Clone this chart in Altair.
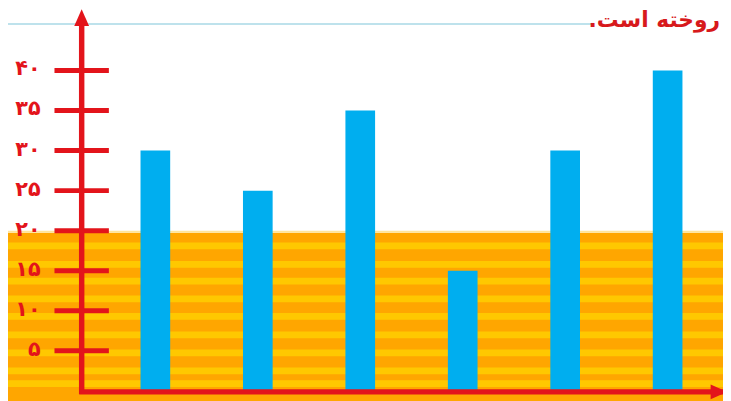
import altair as alt
import pandas as pd

# ---- data ----
categories = ["۱", "۲", "۳", "۴", "۵", "۶"]
values = [30, 25, 35, 15, 30, 40]

tick_values = [5, 10, 15, 20, 25, 30, 35, 40]
tick_labels = ["۵", "۱۰", "۱۵", "۲۰", "۲۵", "۳۰", "۳۵", "۴۰"]

stripe_centers = [18.1, 15.8, 13.7, 11.5, 9.3, 7.0, 4.75, 2.5, 0.9]
band_top = 19.75

title_text = "روخته است.\u200f"

# ---- styles ----
W, H = 723, 393
RED = "#E3141B"
BLUE = "#00AEEF"
ORANGE = "#FFA600"
YELLOW = "#FFC800"
FONT = "DejaVu Sans"

yscale = alt.Scale(domain=[-0.99, 47.53], nice=False, zero=False)

bars_df = pd.DataFrame({"cat": categories, "value": values})
ticks_df = pd.DataFrame({"v": tick_values, "label": tick_labels})
stripes_df = pd.DataFrame({"c": stripe_centers})
stripes_df["lo"] = stripes_df["c"] - 0.42
stripes_df["hi"] = stripes_df["c"] + 0.42
band_df = pd.DataFrame({"lo": [-2.0], "hi": [band_top]})
pale_df = pd.DataFrame({"lo": [band_top], "hi": [band_top + 0.25]})

band = alt.Chart(band_df).mark_rect(color=ORANGE).encode(
    x=alt.value(0), x2=alt.value(W),
    y=alt.Y("lo:Q", scale=yscale, axis=None), y2="hi:Q")

pale = alt.Chart(pale_df).mark_rect(color="#FFE59A").encode(
    x=alt.value(0), x2=alt.value(W),
    y=alt.Y("lo:Q", scale=yscale, axis=None), y2="hi:Q")

stripes = alt.Chart(stripes_df).mark_rect(color=YELLOW).encode(
    x=alt.value(0), x2=alt.value(W),
    y=alt.Y("lo:Q", scale=yscale, axis=None), y2="hi:Q")

blue_line = alt.Chart(pd.DataFrame({"a": [0]})).mark_rule(
    color="#A9D9E6", strokeWidth=1.5).encode(
    x=alt.value(0), x2=alt.value(590), y=alt.value(14))

bars = alt.Chart(bars_df).mark_bar(color=BLUE, size=30).encode(
    x=alt.X("cat:N", sort=categories, axis=None,
            scale=alt.Scale(type="point", range=[149, 667], padding=0)),
    y=alt.Y("value:Q", scale=yscale, axis=None),
    y2=alt.datum(0))

ticks = alt.Chart(ticks_df).mark_rule(color=RED, strokeWidth=5).encode(
    x=alt.value(47), x2=alt.value(102),
    y=alt.Y("v:Q", scale=yscale, axis=None))

labels = alt.Chart(ticks_df).mark_text(
    color=RED, font=FONT, fontSize=21, fontWeight="bold",
    align="right", baseline="middle", dy=-1).encode(
    x=alt.value(33),
    y=alt.Y("v:Q", scale=yscale, axis=None),
    text="label:N")

yaxis = alt.Chart(pd.DataFrame({"a": [0]})).mark_rule(
    color=RED, strokeWidth=5.5).encode(
    x=alt.value(74.5), y=alt.value(14), y2=alt.value(388))

xaxis = alt.Chart(pd.DataFrame({"a": [0]})).mark_rule(
    color=RED, strokeWidth=5.5, yOffset=1).encode(
    x=alt.value(72), x2=alt.value(W),
    y=alt.datum(0, scale=yscale))

up_arrow = alt.Chart(pd.DataFrame({"a": [0]})).mark_point(
    shape="M0,-1L0.88,1L-0.88,1Z", size=289, filled=True,
    color=RED, opacity=1).encode(x=alt.value(74.5), y=alt.value(7.5))

right_arrow = alt.Chart(pd.DataFrame({"a": [0]})).mark_point(
    shape="M1,0L-1,-0.88L-1,0.88Z", size=289, filled=True,
    color=RED, opacity=1).encode(x=alt.value(719), y=alt.value(386))

title = alt.Chart(pd.DataFrame({"t": [title_text]})).mark_text(
    color="#D7191C", font=FONT, fontSize=22, fontWeight="bold",
    align="right", baseline="alphabetic").encode(
    x=alt.value(720), y=alt.value(17), text="t:N")

chart = alt.layer(
    band, pale, stripes, blue_line, bars, ticks, labels,
    yaxis, xaxis, up_arrow, right_arrow, title
).properties(
    width=W, height=H,
    autosize=alt.AutoSizeParams(type="none"),
    padding=0,
    background="white",
).configure_view(strokeWidth=0, stroke=None)

chart.save("out.html", embed_options={"renderer": "svg", "actions": False})
